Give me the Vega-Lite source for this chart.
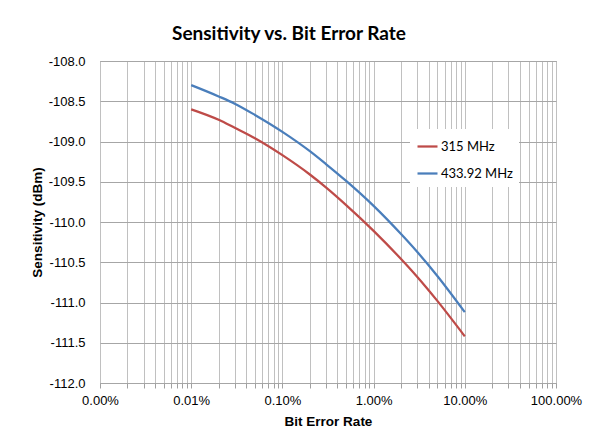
{
  "$schema": "https://vega.github.io/schema/vega-lite/v6.json",
  "width": 456,
  "height": 322,
  "autosize": {"type": "none"},
  "padding": {"left": 100, "top": 61, "right": 36, "bottom": 57},
  "background": "white",
  "title": {
    "text": "Sensitivity vs. Bit Error Rate",
    "font": "Lato",
    "fontSize": 19,
    "fontWeight": "bold",
    "color": "#000000",
    "anchor": "middle",
    "dx": -39,
    "offset": 11
  },
  "data": {
    "values": [
      {"ber": 0.0001, "s": -108.60, "f": "315 MHz"},
      {"ber": 0.0002, "s": -108.73, "f": "315 MHz"},
      {"ber": 0.0003, "s": -108.83, "f": "315 MHz"},
      {"ber": 0.0005, "s": -108.96, "f": "315 MHz"},
      {"ber": 0.001, "s": -109.17, "f": "315 MHz"},
      {"ber": 0.002, "s": -109.41, "f": "315 MHz"},
      {"ber": 0.003, "s": -109.57, "f": "315 MHz"},
      {"ber": 0.005, "s": -109.79, "f": "315 MHz"},
      {"ber": 0.01, "s": -110.11, "f": "315 MHz"},
      {"ber": 0.02, "s": -110.46, "f": "315 MHz"},
      {"ber": 0.03, "s": -110.68, "f": "315 MHz"},
      {"ber": 0.05, "s": -110.98, "f": "315 MHz"},
      {"ber": 0.1, "s": -111.42, "f": "315 MHz"},
      {"ber": 0.0001, "s": -108.30, "f": "433.92 MHz"},
      {"ber": 0.0002, "s": -108.44, "f": "433.92 MHz"},
      {"ber": 0.0003, "s": -108.53, "f": "433.92 MHz"},
      {"ber": 0.0005, "s": -108.67, "f": "433.92 MHz"},
      {"ber": 0.001, "s": -108.88, "f": "433.92 MHz"},
      {"ber": 0.002, "s": -109.12, "f": "433.92 MHz"},
      {"ber": 0.003, "s": -109.28, "f": "433.92 MHz"},
      {"ber": 0.005, "s": -109.49, "f": "433.92 MHz"},
      {"ber": 0.01, "s": -109.80, "f": "433.92 MHz"},
      {"ber": 0.02, "s": -110.15, "f": "433.92 MHz"},
      {"ber": 0.03, "s": -110.37, "f": "433.92 MHz"},
      {"ber": 0.05, "s": -110.67, "f": "433.92 MHz"},
      {"ber": 0.1, "s": -111.12, "f": "433.92 MHz"}
    ]
  },
  "mark": {"type": "line", "strokeWidth": 2.25, "interpolate": "monotone"},
  "encoding": {
    "x": {
      "field": "ber",
      "type": "quantitative",
      "title": "Bit Error Rate",
      "scale": {"type": "log", "domain": [0.00001, 1], "nice": false},
      "axis": {
        "values": [0.00001,0.00002,0.00003,0.00004,0.00005,0.00006,0.00007,0.00008,0.00009,
                   0.0001,0.0002,0.0003,0.0004,0.0005,0.0006,0.0007,0.0008,0.0009,
                   0.001,0.002,0.003,0.004,0.005,0.006,0.007,0.008,0.009,
                   0.01,0.02,0.03,0.04,0.05,0.06,0.07,0.08,0.09,
                   0.1,0.2,0.3,0.4,0.5,0.6,0.7,0.8,0.9,1],
        "labelExpr": "abs(log(datum.value)/LN10 - round(log(datum.value)/LN10)) < 0.001 ? format(datum.value, '.2%') : ''",
        "labelFont": "Liberation Sans",
        "labelFontSize": 13,
        "labelColor": "#000000",
        "labelPadding": 6,
        "labelOverlap": false,
        "labelFlush": false,
        "grid": true,
        "gridColor": "#C0C0C0",
        "gridWidth": 1,
        "ticks": true,
        "tickSize": 5,
        "tickColor": "#A0A0A0",
        "domain": false,
        "titleFont": "Liberation Sans",
        "titleFontSize": 13.5,
        "titleFontWeight": "bold",
        "titleColor": "#000000",
        "titlePadding": 7
      }
    },
    "y": {
      "field": "s",
      "type": "quantitative",
      "title": "Sensitivity (dBm)",
      "scale": {"domain": [-112, -108], "nice": false, "zero": false},
      "axis": {
        "values": [-112,-111.5,-111,-110.5,-110,-109.5,-109,-108.5,-108],
        "labelExpr": "replace(format(datum.value, '.1f'), '\u2212', '-')",
        "labelFont": "Liberation Sans",
        "labelFontSize": 13,
        "labelColor": "#000000",
        "labelPadding": 15,
        "ticks": false,
        "domain": false,
        "grid": true,
        "gridColor": "#A6A6A6",
        "titleFont": "Liberation Sans",
        "titleFontSize": 13.5,
        "titleFontWeight": "bold",
        "titleColor": "#000000",
        "titlePadding": 4
      }
    },
    "color": {
      "field": "f",
      "type": "nominal",
      "scale": {"domain": ["315 MHz", "433.92 MHz"], "range": ["#BE4B48", "#4A7EBB"]},
      "legend": {
        "title": null,
        "orient": "none",
        "legendX": 310,
        "legendY": 68,
        "fillColor": "white",
        "padding": 6,
        "symbolType": "stroke",
        "symbolSize": 400,
        "symbolStrokeWidth": 2.25,
        "labelFont": "Lato",
        "labelFontSize": 13,
        "labelColor": "#000000",
        "labelOffset": 2,
        "rowPadding": 8
      }
    }
  },
  "config": {
    "view": {"stroke": "#888888", "strokeWidth": 1}
  }
}
